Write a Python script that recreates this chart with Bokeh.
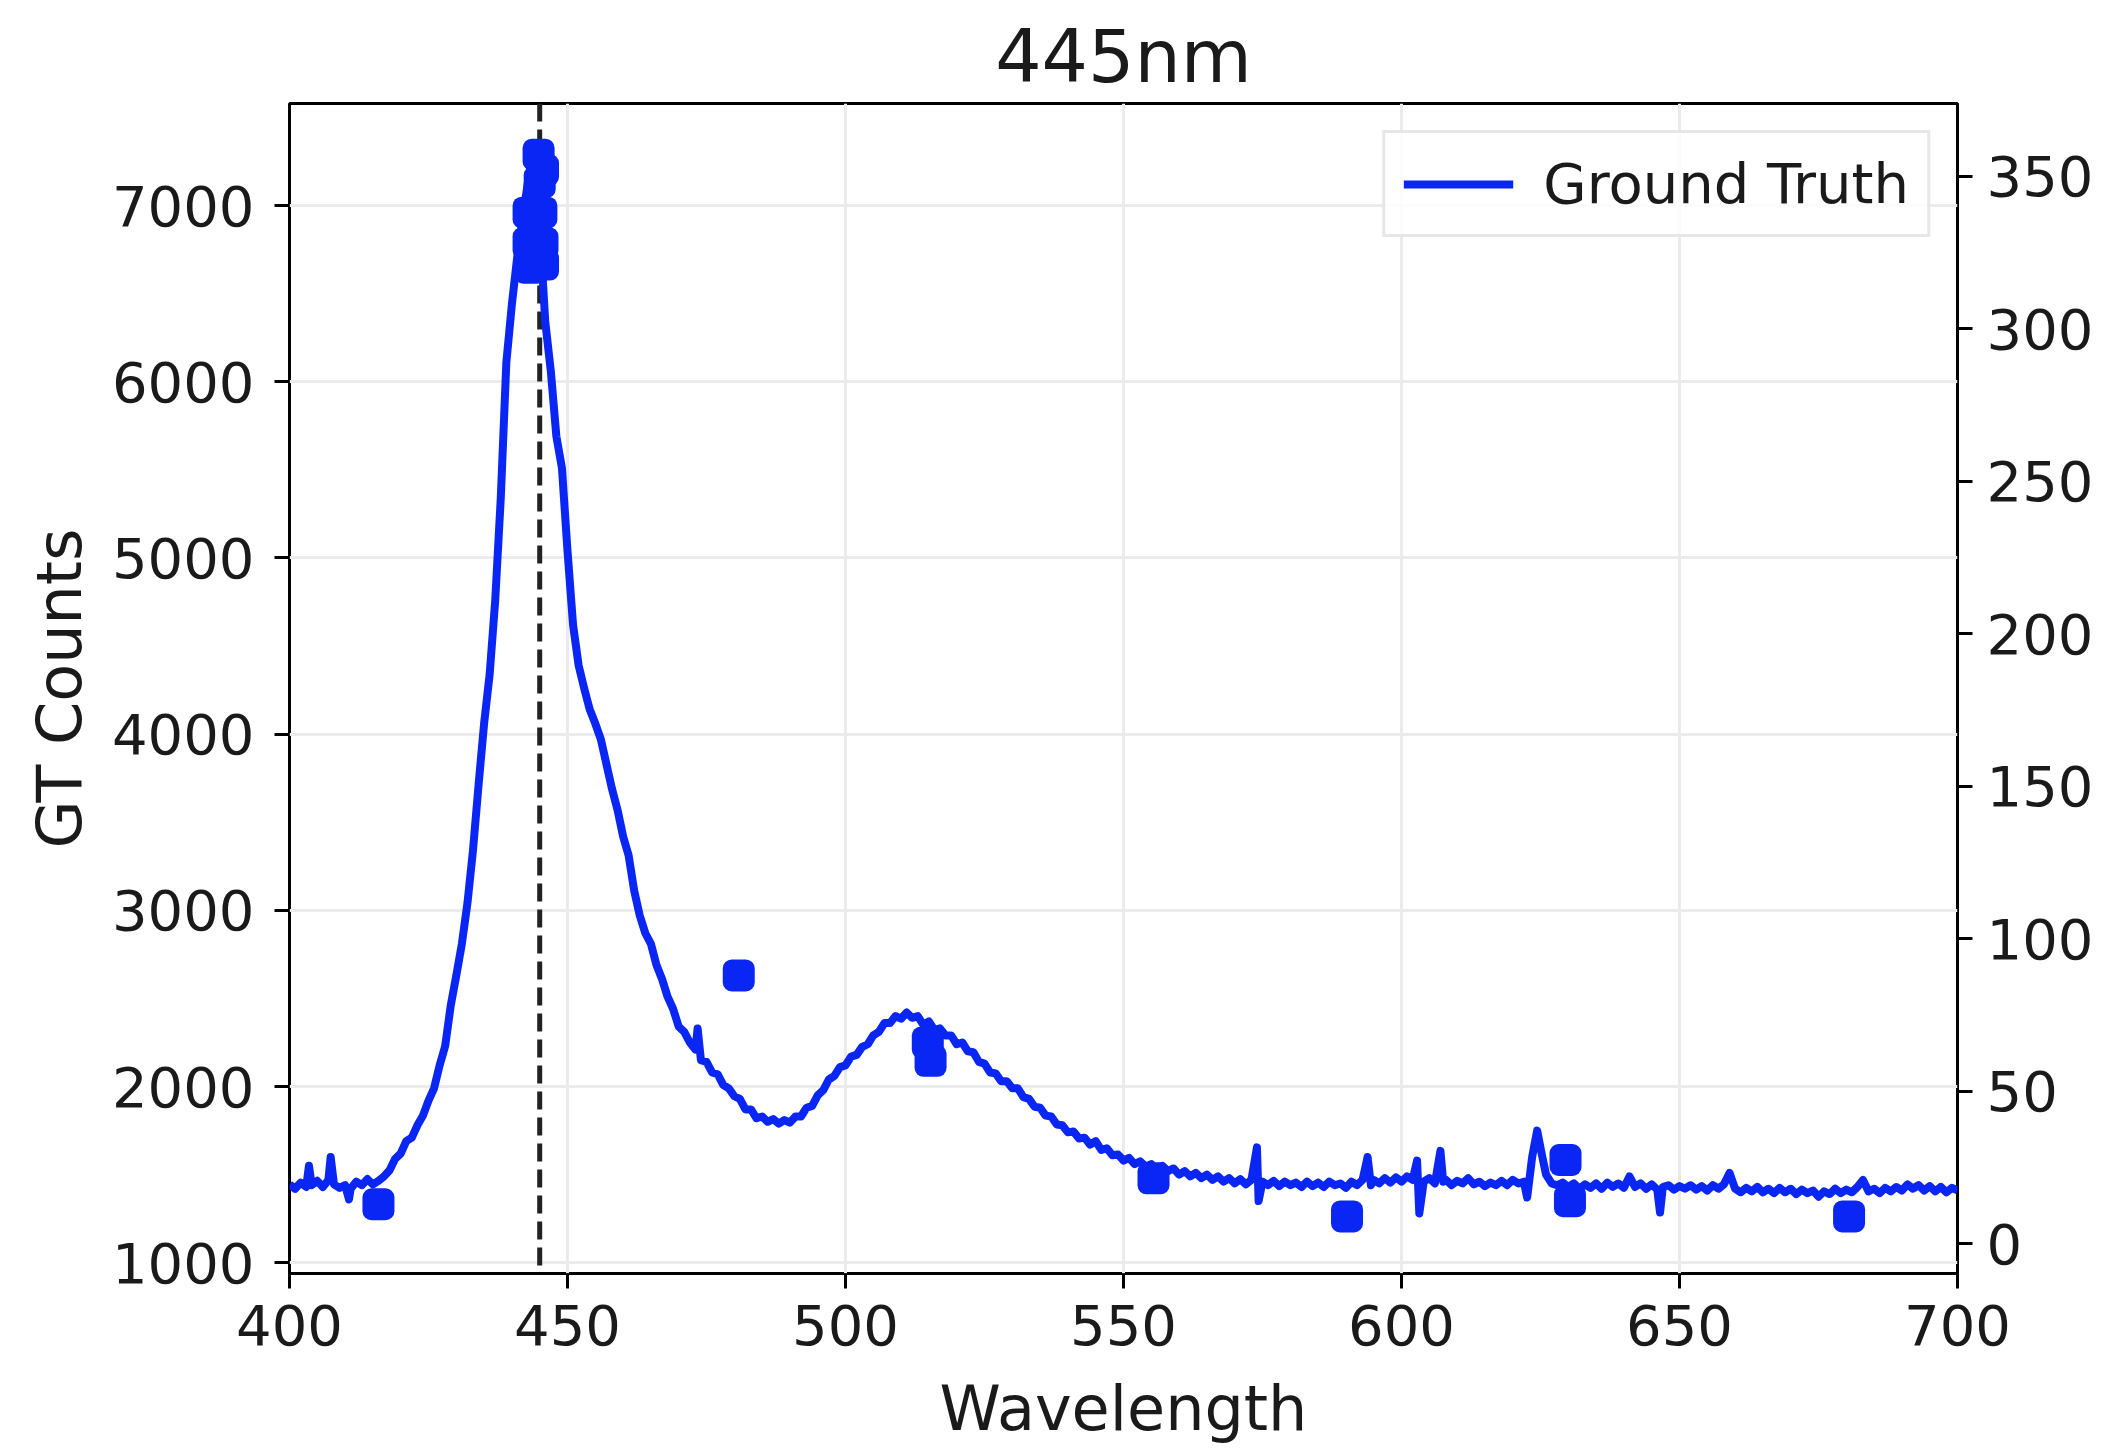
from bokeh.plotting import figure
from bokeh.models import Range1d, LinearAxis, FixedTicker, Span, Legend, LegendItem
from bokeh.embed import file_html
from bokeh.resources import INLINE

# ---------------- data ----------------
TITLE = "445nm"
EXCITATION_NM = 445

WAVELENGTH = [
    400, 401, 402, 403, 403.5, 404, 405, 406, 407, 407.4, 408, 409, 410, 410.7, 411, 412, 413, 414, 415, 416,
    417, 418, 419, 420, 421, 422, 423, 424, 425, 426, 427, 428, 429, 430, 431, 432, 433, 434, 435, 436,
    437, 438, 439, 440, 441, 442, 443, 443.7, 444.5, 445, 445.5, 446, 447, 448, 449, 450, 451, 452, 453, 454,
    455, 456, 457, 458, 459, 460, 461, 462, 463, 464, 465, 466, 467, 468, 469, 470, 471, 472, 473, 473.4,
    474, 475, 476, 477, 478, 479, 480, 481, 482, 483, 484, 485, 486, 487, 488, 489, 490, 491, 492, 493,
    494, 495, 496, 497, 498, 499, 500, 501, 502, 503, 504, 505, 506, 507, 508, 509, 510, 511, 512, 513,
    514, 515, 516, 517, 518, 519, 520, 521, 522, 523, 524, 525, 526, 527, 528, 529, 530, 531, 532, 533,
    534, 535, 536, 537, 538, 539, 540, 541, 542, 543, 544, 545, 546, 547, 548, 549, 550, 551, 552, 553,
    554, 555, 556, 557, 558, 559, 560, 561, 562, 563, 564, 565, 566, 567, 568, 569, 570, 571, 572, 573,
    574, 574.3, 575, 576, 577, 578, 579, 580, 581, 582, 583, 584, 585, 586, 587, 588, 589, 590, 591, 592,
    593, 593.9, 594.5, 595, 596, 597, 598, 599, 600, 601, 602, 602.8, 603.2, 604, 605, 606, 607, 607.5, 608, 609,
    610, 611, 612, 613, 614, 615, 616, 617, 618, 619, 620, 621, 622, 622.6, 623.5, 624.4, 625.2, 626, 627, 628,
    629, 630, 631, 632, 633, 634, 635, 636, 637, 638, 639, 640, 641, 642, 643, 644, 645, 646, 646.5, 647,
    648, 649, 650, 651, 652, 653, 654, 655, 656, 657, 658, 659, 660, 661, 662, 663, 664, 665, 666, 667,
    668, 669, 670, 671, 672, 673, 674, 675, 676, 677, 678, 679, 680, 681, 682, 683, 684, 685, 686, 687,
    688, 689, 690, 691, 692, 693, 694, 695, 696, 697, 698, 699, 700,
]

GT_COUNTS = [
    1445, 1420, 1455, 1430, 1550, 1440, 1465, 1430, 1470, 1600, 1445, 1425, 1440, 1360, 1420, 1460, 1440, 1475, 1445, 1465,
    1490, 1525, 1590, 1620, 1690, 1710, 1780, 1835, 1920, 1990, 2120, 2230, 2460, 2630, 2810, 3040, 3340, 3710, 4060, 4340,
    4760, 5340, 6110, 6440, 6720, 6940, 7160, 7277, 7090, 6910, 6610, 6340, 6060, 5690, 5510, 5040, 4620, 4390, 4260, 4140,
    4060, 3970, 3830, 3690, 3570, 3420, 3310, 3110, 2970, 2870, 2810, 2690, 2610, 2510, 2440, 2340, 2310, 2250, 2210, 2330,
    2150, 2140, 2080, 2070, 2010, 1990, 1945, 1930, 1870, 1870, 1820, 1830, 1800, 1815, 1790, 1810, 1795, 1830, 1830, 1880,
    1890, 1950, 1980, 2040, 2060, 2110, 2120, 2170, 2180, 2225, 2240, 2290, 2310, 2360, 2360, 2400, 2385, 2420, 2390, 2400,
    2350, 2370, 2320, 2330, 2290, 2290, 2240, 2250, 2200, 2195, 2140, 2130, 2080, 2075, 2030, 2030, 1990, 1990, 1940, 1930,
    1885, 1880, 1835, 1830, 1785, 1780, 1740, 1745, 1705, 1710, 1670, 1690, 1640, 1650, 1610, 1615, 1580, 1595, 1560, 1575,
    1545, 1560, 1530, 1550, 1520, 1535, 1500, 1520, 1490, 1510, 1480, 1500, 1470, 1490, 1460, 1480, 1450, 1475, 1445, 1470,
    1655, 1350, 1460, 1440, 1465, 1435, 1460, 1440, 1455, 1430, 1460, 1435, 1455, 1430, 1460, 1440, 1450, 1425, 1460, 1440,
    1470, 1600, 1440, 1470, 1450, 1480, 1455, 1485, 1460, 1490, 1470, 1580, 1280, 1460, 1480, 1450, 1635, 1460, 1470, 1440,
    1465, 1450, 1480, 1445, 1460, 1435, 1455, 1440, 1465, 1440, 1470, 1450, 1460, 1370, 1600, 1750, 1620, 1500, 1450, 1440,
    1455, 1430, 1450, 1420, 1445, 1425, 1450, 1420, 1455, 1430, 1450, 1425, 1490, 1430, 1450, 1420, 1445, 1415, 1285, 1430,
    1440, 1415, 1435, 1420, 1440, 1415, 1435, 1410, 1440, 1420, 1445, 1510, 1420, 1400, 1425, 1405, 1430, 1400, 1420, 1395,
    1425, 1400, 1420, 1390, 1415, 1395, 1410, 1375, 1405, 1390, 1420, 1395, 1415, 1400, 1430, 1470, 1405, 1420, 1395, 1425,
    1405, 1430, 1410, 1445, 1420, 1440, 1410, 1435, 1405, 1430, 1400, 1425, 1410,
]

# markers plotted against the right-hand axis
DOT_WAVELENGTH = [416, 443, 443, 443.3, 444, 444.8, 445, 445.3, 445.5, 445.6, 445.6,
                  480.8, 514.8, 515.3, 555.4, 590.2, 629.5, 630.3, 680.5]
DOT_VALUE = [13, 338, 328, 320, 332, 357, 348, 338, 328, 321, 352,
             88, 66, 60, 21.5, 9, 27.5, 14, 9]

X_TICKS = [400, 450, 500, 550, 600, 650, 700]
LEFT_TICKS = [1000, 2000, 3000, 4000, 5000, 6000, 7000]
RIGHT_TICKS = [0, 50, 100, 150, 200, 250, 300, 350]

X_LIMITS = (400, 700)
LEFT_LIMITS = (939, 7579)
RIGHT_LIMITS = (-9.7, 373.8)

# ---------------- styling ----------------
BLUE = "#0a26f5"
TEXT = "#1a1a1a"
FONT = "DejaVu Sans"

p = figure(
    width=2105, height=1449, output_backend="svg", toolbar_location=None,
    x_range=Range1d(*X_LIMITS), y_range=Range1d(*LEFT_LIMITS),
    min_border_left=289, min_border_right=148, min_border_top=103, min_border_bottom=176,
    title=TITLE,
)
p.background_fill_color = "white"
p.border_fill_color = "white"
p.outline_line_color = "black"
p.outline_line_width = 3
p.outline_line_alpha = 1.0

p.title.align = "center"
p.title.vertical_align = "middle"
p.title.text_font = FONT
p.title.text_font_size = "73px"
p.title.text_font_style = "normal"
p.title.text_color = TEXT
p.title.standoff = 8

p.extra_y_ranges = {"right": Range1d(*RIGHT_LIMITS)}
right_axis = LinearAxis(y_range_name="right")
p.add_layout(right_axis, "right")

p.xaxis.ticker = FixedTicker(ticks=X_TICKS)
p.yaxis[0].ticker = FixedTicker(ticks=LEFT_TICKS)
right_axis.ticker = FixedTicker(ticks=RIGHT_TICKS)

p.xaxis.axis_label = "Wavelength"
p.yaxis[0].axis_label = "GT Counts"

for ax in [p.xaxis[0], p.yaxis[0], right_axis]:
    ax.axis_line_color = None
    ax.major_tick_out = 15
    ax.major_tick_in = 0
    ax.major_tick_line_width = 3
    ax.major_tick_line_color = "black"
    ax.minor_tick_line_color = None
    ax.major_label_text_font = FONT
    ax.major_label_text_font_size = "56px"
    ax.major_label_text_color = TEXT
    ax.axis_label_text_font = FONT
    ax.axis_label_text_font_size = "62px"
    ax.axis_label_text_font_style = "normal"
    ax.axis_label_text_color = TEXT

p.xaxis.major_label_standoff = 16
p.xaxis.axis_label_standoff = 24
p.yaxis[0].major_label_standoff = 20
p.yaxis[0].axis_label_standoff = 13
right_axis.major_label_standoff = 14

p.xgrid.ticker = FixedTicker(ticks=X_TICKS)
p.ygrid.ticker = FixedTicker(ticks=LEFT_TICKS)
p.grid.grid_line_color = "#ebebeb"
p.grid.grid_line_width = 3

# excitation wavelength marker
p.add_layout(Span(location=EXCITATION_NM, dimension="height", line_color="#222222",
                  line_width=5, line_dash="18 8", level="underlay"))

line = p.line(WAVELENGTH, GT_COUNTS, line_color=BLUE, line_width=8, line_join="round")

p.scatter(DOT_WAVELENGTH, DOT_VALUE, y_range_name="right", marker="square",
          size=14, line_width=18, line_join="round", fill_color=BLUE, line_color=BLUE)

legend = Legend(items=[LegendItem(label="Ground Truth", renderers=[line])],
                location="top_right")
legend.label_text_font = FONT
legend.label_text_font_size = "56px"
legend.label_text_color = TEXT
legend.glyph_width = 110
legend.glyph_height = 60
legend.label_standoff = 30
legend.padding = 18
legend.margin = 27
legend.border_line_color = "#d0d0d0"
legend.border_line_width = 3
legend.background_fill_color = "white"
legend.background_fill_alpha = 0.85
p.add_layout(legend)

open("out.html", "w").write(file_html(p, INLINE))
